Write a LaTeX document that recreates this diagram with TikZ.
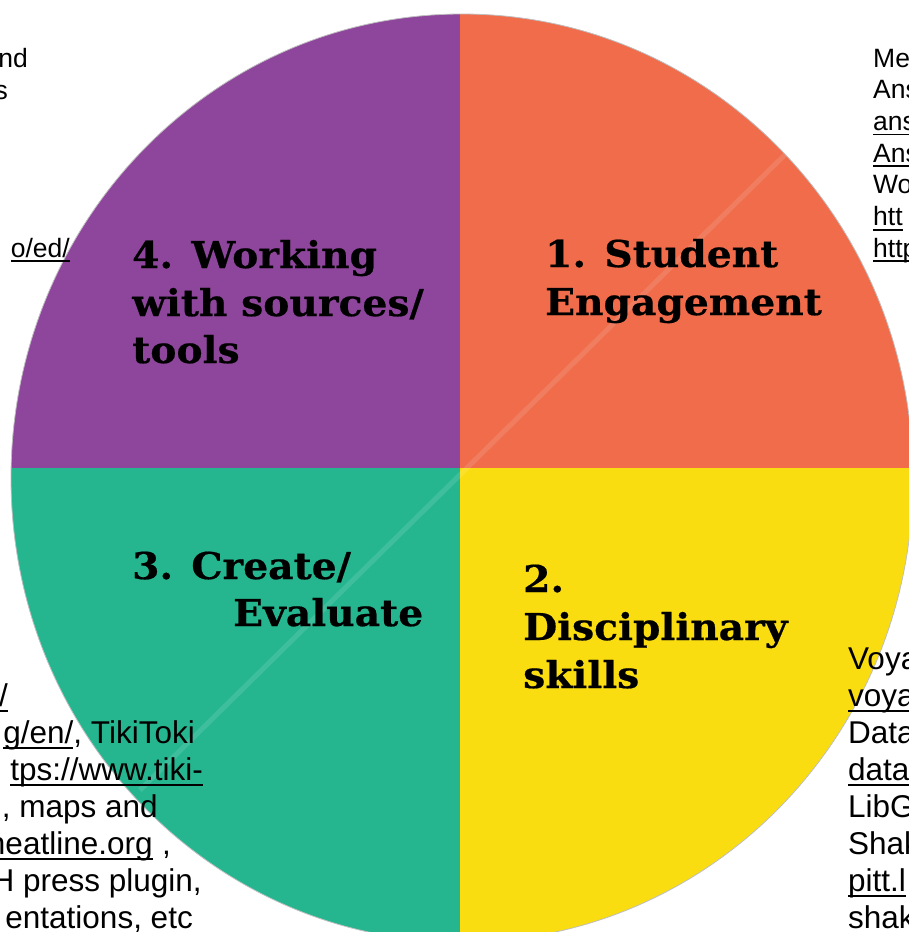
\documentclass[tikz,border=0pt]{standalone}
\usepackage{fontspec}
\setmainfont{Liberation Sans}
\newfontfamily\slabfont[FakeStretch=1.06, FakeBold=0.5]{DejaVu Serif}
\usetikzlibrary{positioning}
\definecolor{pieviolet}{RGB}{142,70,156}
\definecolor{pieorange}{RGB}{240,108,74}
\definecolor{pieyellow}{RGB}{250,221,16}
\definecolor{piegreen}{RGB}{37,182,144}
\newcommand{\lnk}[1]{\setbox0=\hbox{#1}\rlap{\rule[-0.19em]{\wd0}{0.07em}}\box0}

\begin{document}
\begin{tikzpicture}[x=1pt, y=-1pt,
  quadlabel/.style = {font=\slabfont\bfseries\fontsize{37}{47}\selectfont, anchor=base west, inner sep=0pt},
  notetop/.style = {font=\fontsize{26.5}{31}\selectfont, inner sep=0pt},
  notelow/.style = {font=\fontsize{31.5}{37}\selectfont, inner sep=0pt}]
\useasboundingbox (0,0) rectangle (909,932);

% the wheel
\begin{scope}
\clip (462,478) ellipse [x radius=451, y radius=464];
\fill[pieviolet] (0,0) rectangle (460,468);
\fill[pieorange] (460,0) rectangle (930,468);
\fill[piegreen] (0,468) rectangle (460,950);
\fill[pieyellow] (460,468) rectangle (930,950);
\draw[white, opacity=0.12, line width=5pt] (140,790) -- (810,130);
\end{scope}
\draw[gray!50, line width=0.8pt] (462,478) ellipse [x radius=451, y radius=464];

% quadrant titles
\node[quadlabel] (work1) at (132,268) {4. Working};
\node[quadlabel] (work2) at (132,316) {with sources/};
\node[quadlabel] (work3) at (132,363) {tools};
\node[quadlabel] (stud1) at (545,267) {1. Student};
\node[quadlabel] (stud2) at (545,315) {Engagement};
\node[quadlabel] (crea1) at (132,579) {3. Create/};
\node[quadlabel] (crea2) at (233,626) {Evaluate};
\node[quadlabel] (disc1) at (523,592) {2.};
\node[quadlabel] (disc2) at (523,640) {Disciplinary};
\node[quadlabel] (disc3) at (523,688) {skills};

% notes, upper left
\node[notetop, anchor=base east] (tl1) at (28,67) {nd};
\node[notetop, anchor=base east] (tl2) at (8,99) {s};
\node[notetop, anchor=base east] (tl7) at (70,257) {\lnk{o/ed/}};

% notes, upper right
\foreach \txt [count=\i] in {Me, Ans, \lnk{ans}, \lnk{Ans}, Wo, \lnk{htt}, \lnk{http}}
  \node[notetop, anchor=base west] (tr\i) at (873, 67+31.7*\i-31.7) {\txt};

% notes, lower left
\node[notelow, anchor=base east] (bl2) at (8,706) {\lnk{/}};
\node[notelow, anchor=base east] (bl3) at (195,743) {\lnk{g/en/}, TikiToki};
\node[notelow, anchor=base east] (bl4) at (203,780) {\lnk{tps://www.tiki-}};
\node[notelow, anchor=base east] (bl5) at (158,817) {, maps and};
\node[notelow, anchor=base east] (bl6) at (171,854) {\lnk{heatline.org}\hspace{0.3em},};
\node[notelow, anchor=base east] (bl7) at (202,891) {H press plugin,};
\node[notelow, anchor=base east] (bl8) at (193,928) {entations, etc};

% notes, lower right
\foreach \txt [count=\i] in {Voya, \lnk{voya}, Data, \lnk{data}, LibG, Shak, \lnk{pitt.l}, shak}
  \node[notelow, anchor=base west] (br\i) at (848, 669+37*\i-37) {\txt};
\end{tikzpicture}
\end{document}
